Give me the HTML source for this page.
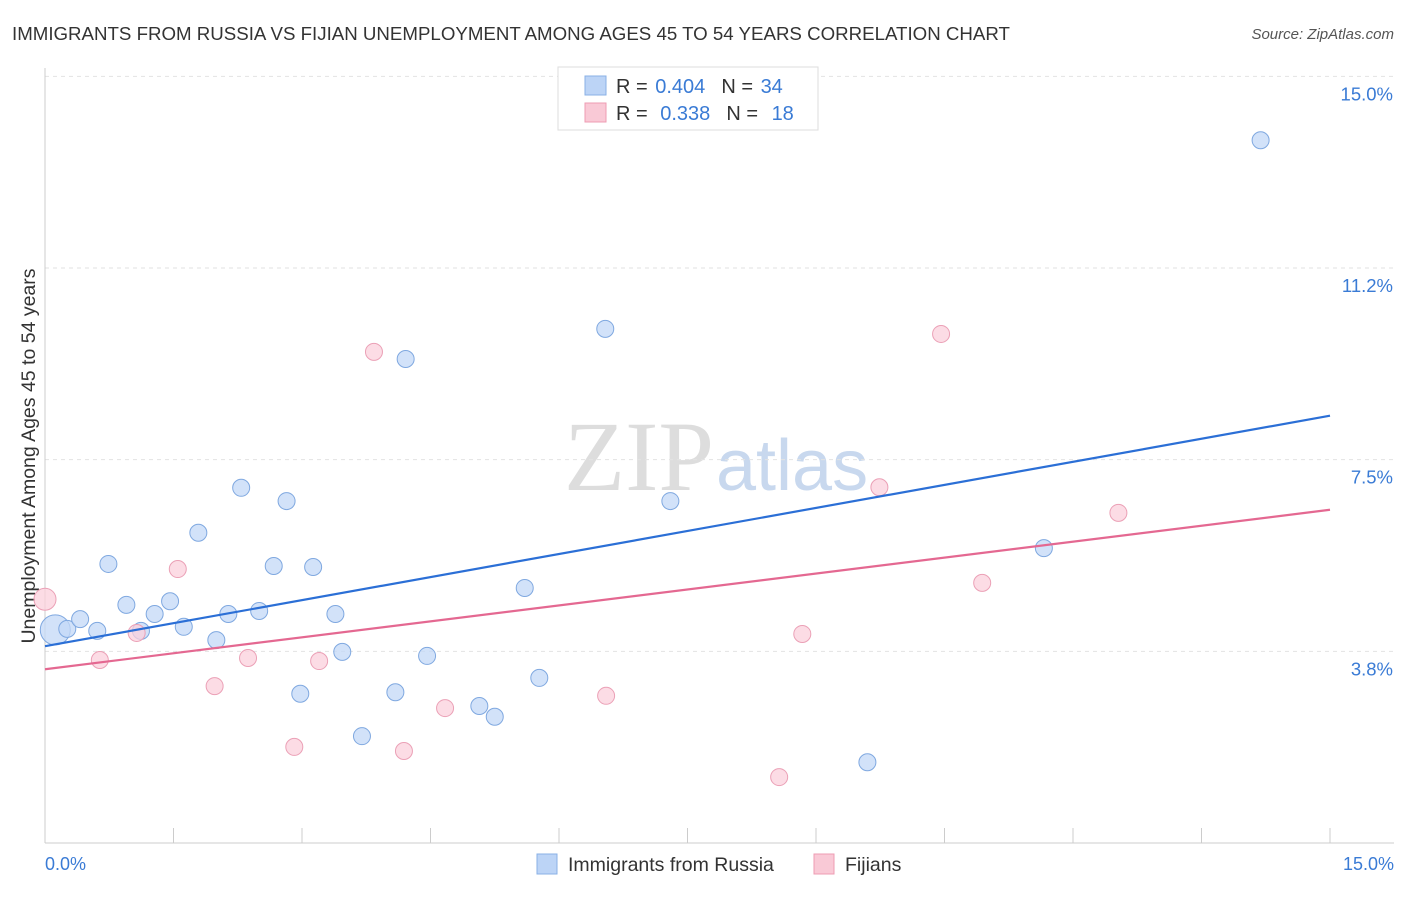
<!DOCTYPE html>
<html><head><meta charset="utf-8"><style>
body{margin:0;background:#fff;font-family:"Liberation Sans",sans-serif;}
</style></head><body>
<svg width="1406" height="892" viewBox="0 0 1406 892" id="chart" font-family="Liberation Sans, sans-serif">
<text x="12" y="40" font-size="18.7" fill="#333">IMMIGRANTS FROM RUSSIA VS FIJIAN UNEMPLOYMENT AMONG AGES 45 TO 54 YEARS CORRELATION CHART</text>
<text x="1394" y="39" font-size="15" fill="#555" font-style="italic" text-anchor="end">Source: ZipAtlas.com</text>
<text x="714" y="490" font-size="100" fill="#ddd" text-anchor="end" font-family="Liberation Serif, serif">ZIP</text>
<text x="716" y="490" font-size="72" fill="#c8d8ee">atlas</text>
<g id="grid"></g>
<line x1="45" y1="68" x2="45" y2="843" stroke="#ccc"/>
<line x1="45" y1="843" x2="1394" y2="843" stroke="#ccc"/>
<text x="35" y="456" font-size="19.5" fill="#333" text-anchor="middle" transform="rotate(-90 35 456)">Unemployment Among Ages 45 to 54 years</text>
<text x="45" y="870" font-size="18" fill="#3a7bd5">0.0%</text>
<text x="1394" y="870" font-size="18" fill="#3a7bd5" text-anchor="end">15.0%</text>
<g id="marks"></g>
<g>
<rect x="558" y="67" width="260" height="63" fill="#fff" stroke="#ddd"/>
<rect x="585" y="76" width="21" height="19" fill="#bcd4f6" stroke="#8ab0e6"/>
<rect x="585" y="103" width="21" height="19" fill="#f9c9d6" stroke="#ee9cb3"/>
<text x="616" y="93" font-size="20" fill="#333">R = <tspan fill="#3a7bd5" dx="2">0.404</tspan><tspan dx="16">N = </tspan><tspan fill="#3a7bd5" dx="2">34</tspan></text>
<text x="616" y="120" font-size="20" fill="#333">R = <tspan fill="#3a7bd5" dx="7">0.338</tspan><tspan dx="16">N = </tspan><tspan fill="#3a7bd5" dx="8">18</tspan></text>
</g>
<g>
<rect x="537" y="854" width="20" height="20" fill="#bcd4f6" stroke="#8ab0e6"/>
<text x="568" y="871" font-size="19.5" fill="#333">Immigrants from Russia</text>
<rect x="814" y="854" width="20" height="20" fill="#f9c9d6" stroke="#ee9cb3"/>
<text x="845" y="871" font-size="19.5" fill="#333">Fijians</text>
</g>
</svg>
<script>
const yTicks=[3.75,7.5,11.25,15];
const yTickLabels=["3.8%","7.5%","11.2%","15.0%"];
const xTicks=[0,1.5,3,4.5,6,7.5,9,10.5,12,13.5,15];
const russiaX=[0.12,0.26,0.41,0.61,0.74,0.95,1.12,1.28,1.46,1.62,1.79,2.00,2.14,2.29,2.50,2.67,2.82,2.98,3.13,3.39,3.47,3.70,4.09,4.21,4.46,5.07,5.25,5.60,5.77,6.54,7.30,9.60,11.66,14.19];
const russiaY=[4.17,4.19,4.38,4.15,5.46,4.66,4.15,4.48,4.73,4.23,6.07,3.97,4.48,6.95,4.54,5.42,6.69,2.92,5.40,4.48,3.74,2.09,2.95,9.47,3.66,2.68,2.47,4.99,3.23,10.06,6.69,1.58,5.77,13.75];
const fijiX=[0,0.64,1.07,1.55,1.98,2.37,2.91,3.20,3.84,4.19,4.67,6.55,8.57,8.84,9.74,10.46,10.94,12.53];
const fijiY=[4.77,3.58,4.11,5.36,3.07,3.62,1.88,3.56,9.61,1.80,2.64,2.88,1.29,4.09,6.96,9.96,5.09,6.46];
const russiaTrend=[3.85,8.36];
const fijiTrend=[3.40,6.52];
const NS="http://www.w3.org/2000/svg";
const sx=v=>45+v/15*1285;
const sy=v=>843-v*51.11;
function mk(tag,attrs,parent){const e=document.createElementNS(NS,tag);for(const k in attrs)e.setAttribute(k,attrs[k]);parent.appendChild(e);return e;}
const grid=document.getElementById('grid'),marks=document.getElementById('marks');
yTicks.forEach((t,i)=>{
 const l=mk('line',{x1:45,x2:1394,y1:sy(t),y2:sy(t),stroke:'#e2e2e2','stroke-dasharray':'4,4'},grid);
 
 
 const tx=mk('text',{x:1393,y:sy(t)+24,'font-size':18.5,fill:'#3a7bd5','text-anchor':'end'},grid);
 tx.textContent=yTickLabels[i];
 
 
});
xTicks.forEach(t=>{
 const l=mk('line',{x1:sx(t),x2:sx(t),y1:828,y2:843,stroke:'#ccc'},grid);
 
 
});
function pts(xs,ys,fill,stroke,name){
 xs.forEach((x,i)=>{
  const r=(i===0)?(name==='russia-point'?15:11):8.5;
  const c=mk('circle',{cx:sx(x),cy:sy(ys[i]),r:r,fill:fill,stroke:stroke,'stroke-width':1,'fill-opacity':0.75},marks);
  
  
 });
}
pts(russiaX,russiaY,'#c3d8f7','#7fa8e0','russia-point');
pts(fijiX,fijiY,'#fbd0dc','#eba0b6','fijian-point');
const l1=mk('line',{x1:sx(0),y1:sy(russiaTrend[0]),x2:sx(15),y2:sy(russiaTrend[1]),stroke:'#2b6fd6','stroke-width':2.2},marks);


const l2=mk('line',{x1:sx(0),y1:sy(fijiTrend[0]),x2:sx(15),y2:sy(fijiTrend[1]),stroke:'#e46891','stroke-width':2.2},marks);


</script>
</body></html>
